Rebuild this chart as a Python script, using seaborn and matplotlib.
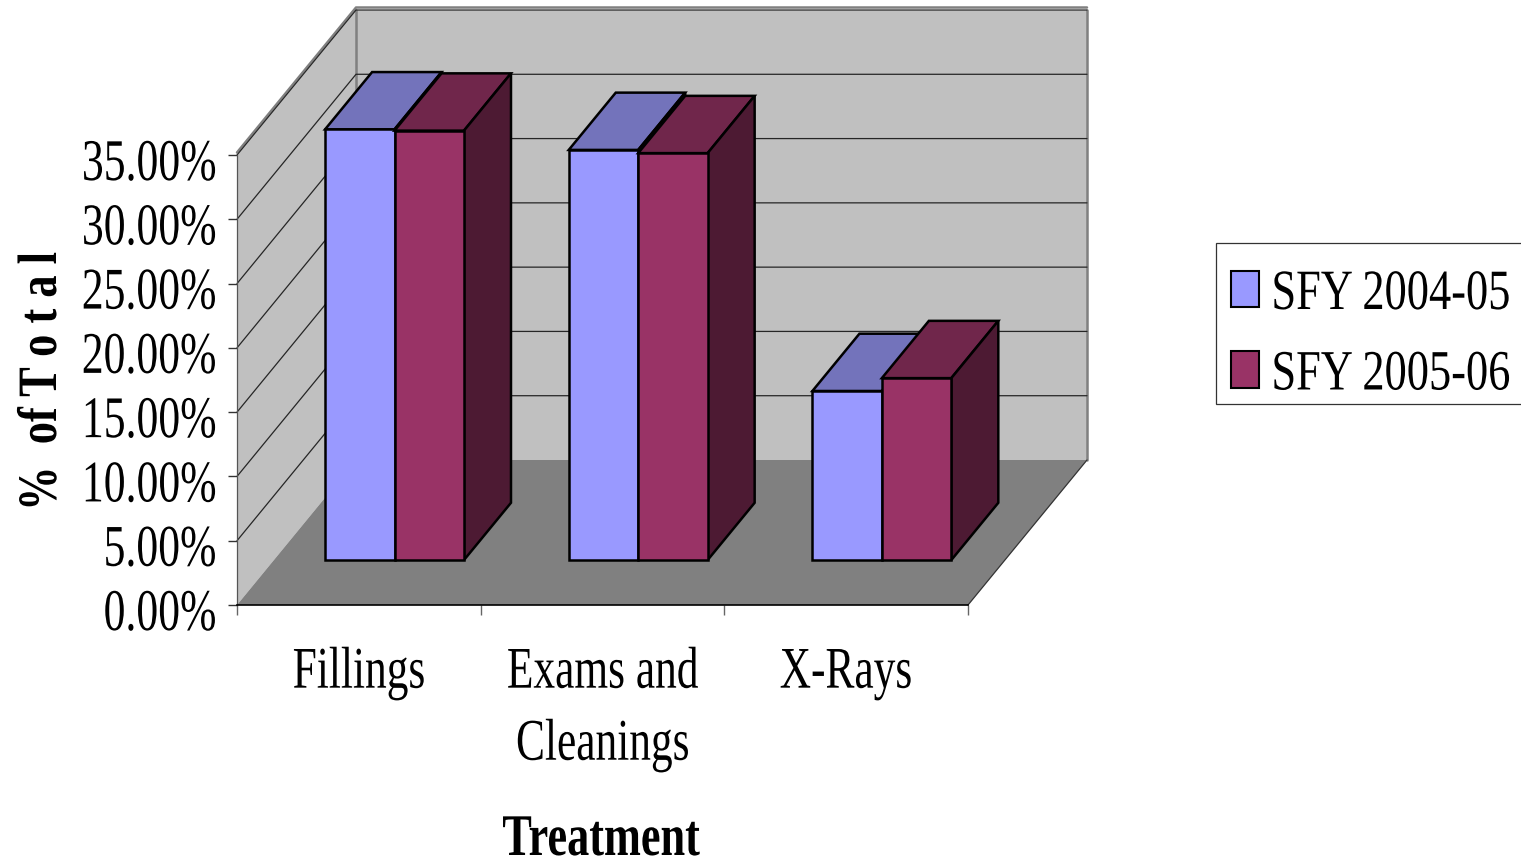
import matplotlib
matplotlib.use("Agg")
import matplotlib.pyplot as plt
import matplotlib.patheffects as pe
from matplotlib.patches import Patch, Polygon, Rectangle
from matplotlib.lines import Line2D
from matplotlib.transforms import Affine2D
import pandas as pd
import seaborn as sns

# Share of total by treatment
treatments = ["Fillings", "Exams and\nCleanings", "X-Rays"]
sfy_2004_05 = [33.5, 31.9, 13.15]
sfy_2005_06 = [33.4, 31.65, 14.15]
series_names = ["SFY 2004-05", "SFY 2005-06"]
y_ticks = [0, 5, 10, 15, 20, 25, 30, 35]

W, H = 1521, 858
X0, X1, Y_BASE, Y_TOP = 237, 968, 605, 155

FRONT = ["#9999FF", "#993366"]
TOP = ["#7373BB", "#70264B"]
SIDE = ["#4D1A33", "#4D1A33"]
WALL = "#C0C0C0"
FLOOR = "#808080"
EDGE = "#808080"

# Oblique projection: one unit of depth moves this far in data units
DEPTH_X = 119 / ((X1 - X0) / 3)
DEPTH_Y = 145 / ((Y_BASE - Y_TOP) / 35)
BAR_DEPTH_START_X = 0.30
BAR_DEPTH_START_Y = 0.31
BAR_DEPTH = 0.395


class Condensed(pe.AbstractPathEffect):
    """Narrow the glyphs along the text direction, keeping one anchor fixed."""

    def __init__(self, factor, anchor="center"):
        super().__init__()
        self.factor = factor
        self.anchor = anchor

    def draw_path(self, renderer, gc, tpath, affine, rgbFace=None):
        ext = tpath.get_extents()
        pivot = {"left": 0.0, "center": ext.x0 + ext.width / 2, "right": ext.x1}[self.anchor]
        local = Affine2D().translate(-pivot, 0).scale(self.factor, 1).translate(pivot, 0)
        renderer.draw_path(gc, tpath, local + affine, rgbFace)


sns.set_style("white")
plt.rcParams["font.family"] = ["Liberation Serif", "DejaVu Serif"]
plt.rcParams["text.color"] = "black"
plt.rcParams["xtick.color"] = "black"
plt.rcParams["ytick.color"] = "black"

fig = plt.figure(figsize=(W / 100, H / 100), dpi=100, facecolor="white")
ax = fig.add_axes([X0 / W, 1 - Y_BASE / H, (X1 - X0) / W, (Y_BASE - Y_TOP) / H])
ax.patch.set_visible(False)

table = pd.DataFrame({
    "treatment": treatments * 2,
    "share": sfy_2004_05 + sfy_2005_06,
    "year": [series_names[0]] * 3 + [series_names[1]] * 3,
})
sns.barplot(data=table, x="treatment", y="share", hue="year", palette=FRONT,
            width=0.57, saturation=1, legend=False, ax=ax, zorder=5,
            edgecolor="black", linewidth=1.8, err_kws={"linewidth": 0})
ax.set_xlim(-0.5, 2.5)
ax.set_ylim(0, 35)


def at_depth(x, y, d):
    return (x + d * DEPTH_X, y + d * DEPTH_Y)


# Room: side wall, back wall and floor
xa, xb = -0.5, 2.5
ax.add_patch(Polygon([at_depth(xa, 0, 0), at_depth(xa, 35, 0), at_depth(xa, 35, 1), at_depth(xa, 0, 1)],
                     closed=True, fc=WALL, ec="none", clip_on=False, zorder=1))
ax.add_patch(Polygon([at_depth(xa, 0, 1), at_depth(xa, 35, 1), at_depth(xb, 35, 1), at_depth(xb, 0, 1)],
                     closed=True, fc=WALL, ec="none", clip_on=False, zorder=1))
ax.add_patch(Polygon([at_depth(xa, 0, 0), at_depth(xb, 0, 0), at_depth(xb, 0, 1), at_depth(xa, 0, 1)],
                     closed=True, fc=FLOOR, ec="none", clip_on=False, zorder=1))

# Room outline: the upper edge sits just above the topmost gridline
raised = ax.transData + Affine2D().translate(0, 2.5)
upper = [at_depth(xa, 35, 0), at_depth(xa, 35, 1), at_depth(xb, 35, 1)]
ax.add_line(Line2D(*zip(*upper), color=EDGE, lw=1.8, clip_on=False, zorder=1.5, transform=raised))
for pts, col, lw in [
    ([at_depth(xb, 35, 1), at_depth(xb, 0, 1)], EDGE, 1.8),
    ([at_depth(xa, 0, 1), at_depth(xa, 35, 1)], EDGE, 1.8),
    ([at_depth(xb, 0, 0), at_depth(xb, 0, 1)], "#333333", 0.9),
]:
    ax.add_line(Line2D(*zip(*pts), color=col, lw=lw, clip_on=False, zorder=1.5))

# Gridlines run along the side wall and across the back wall
for v in y_ticks[1:]:
    pts = [at_depth(xa, v, 0), at_depth(xa, v, 1), at_depth(xb, v, 1)]
    ax.add_line(Line2D(*zip(*pts), color="#262626", lw=0.9, clip_on=False, zorder=2))

# Move the front faces into the room and give each bar a top and a side
bars = [p for p in ax.patches if p.get_zorder() == 5]
for i, bar in enumerate(bars):
    series = i // 3
    bar.set_x(bar.get_x() + BAR_DEPTH_START_X * DEPTH_X)
    bar.set_y(BAR_DEPTH_START_Y * DEPTH_Y)
    bar.set_clip_on(False)
    bar.set_zorder(5 + series * 2 + 1)
    bar.set_joinstyle("miter")
    x, y, w, h = bar.get_x(), bar.get_y(), bar.get_width(), bar.get_height()
    style = dict(closed=True, ec="black", lw=1.8, clip_on=False, zorder=5 + series * 2, joinstyle="miter")
    ax.add_patch(Polygon([(x, y + h), (x + w, y + h),
                          at_depth(x + w, y + h, BAR_DEPTH), at_depth(x, y + h, BAR_DEPTH)],
                         fc=TOP[series], **style))
    ax.add_patch(Polygon([(x + w, y), at_depth(x + w, y, BAR_DEPTH),
                          at_depth(x + w, y + h, BAR_DEPTH), (x + w, y + h)],
                         fc=SIDE[series], **style))

# Axes
sns.despine(ax=ax, top=True, right=True)
ax.spines["left"].set_color("#555555")
ax.spines["left"].set_linewidth(0.9)
ax.spines["left"].set_zorder(4)
ax.spines["bottom"].set_color("black")
ax.spines["bottom"].set_linewidth(1.2)
ax.spines["bottom"].set_zorder(4)

ax.set_yticks(y_ticks)
ax.set_yticklabels([f"{v:.2f}%" for v in y_ticks])
ax.set_xticks(range(3))
ax.set_xticklabels(treatments)
ax.set_xticks([-0.5, 0.5, 1.5, 2.5], minor=True)
ax.tick_params(axis="x", which="major", length=0, pad=30, labelsize=42.5, labelcolor="black")
ax.tick_params(axis="x", which="minor", bottom=True, length=7.5, width=1, color="#666666")
ax.tick_params(axis="y", which="major", left=True, length=6.5, width=1, color="#333333",
               pad=8, labelsize=42.5, labelcolor="black")
for lab in ax.get_yticklabels():
    lab.set_path_effects([Condensed(0.74, "right")])
    lab.set_verticalalignment("center")
    # Labels hang slightly below their ticks
    lab.set_transform(lab.get_transform() + Affine2D().translate(0, -11))
for lab in ax.get_xticklabels():
    lab.set_path_effects([Condensed(0.735, "center")])
    lab.set_linespacing(1.44)

ax.set_xlabel("")
ax.set_ylabel("")
fig.text(601 / W, 1 - 855 / H, "Treatment", fontsize=42.5, fontweight="bold", color="black",
         ha="center", va="baseline", path_effects=[Condensed(0.75, "center")])
fig.text(42 / W, 1 - 382 / H, "%  of T o t a l", fontsize=40, fontweight="bold", rotation=90,
         color="black", ha="center", va="center", rotation_mode="anchor",
         path_effects=[Condensed(0.80, "center")])

# Legend box runs off the right edge of the figure
fig.add_artist(Rectangle((1216 / W, 1 - 404 / H), (W + 20 - 1216) / W, 161 / H,
                         transform=fig.transFigure, fc="white", ec="#333333", lw=0.9,
                         clip_on=False))
handles = [Patch(fc=FRONT[0], ec="black", lw=1.5), Patch(fc=FRONT[1], ec="black", lw=1.5)]
leg = fig.legend(handles, series_names, loc="upper left",
                 bbox_to_anchor=(1231 / W, 1 - 269 / H), borderaxespad=0, fontsize=41,
                 frameon=False, labelcolor="black",
                 handlelength=0.49, handleheight=0.62, handletextpad=0.22,
                 borderpad=0, labelspacing=0.5)
leg.set_zorder(6)
for t in leg.get_texts():
    t.set_path_effects([Condensed(0.78, "left")])

fig.savefig("out.png", dpi=100)
